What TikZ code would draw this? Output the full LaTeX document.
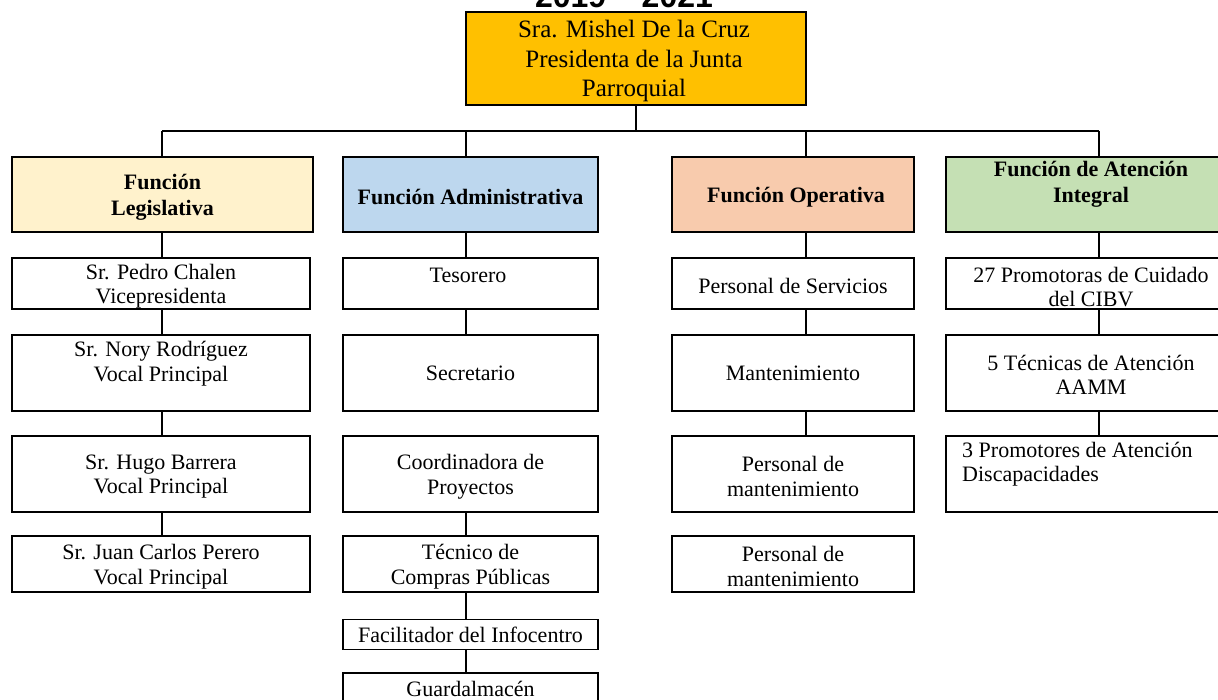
\documentclass[tikz,border=0pt]{standalone}
\usepackage{fontspec}
\setmainfont{Liberation Serif}
\newfontfamily\titlefont{Liberation Sans}
\definecolor{cgold}{HTML}{FFC000}
\definecolor{cyel}{HTML}{FFF2CC}
\definecolor{cblue}{HTML}{BDD7EE}
\definecolor{csalmon}{HTML}{F8CBAD}
\definecolor{cgreen}{HTML}{C5E0B4}
\begin{document}
\begin{tikzpicture}[x=1pt,y=-1pt,
  box/.style={draw, line width=1.8pt, inner sep=0pt, align=center, rectangle,
    font=\fontsize{22}{24.5}\selectfont},
  head/.style={box, font=\bfseries\fontsize{22}{26}\selectfont},
  txt/.style={inner sep=0pt, align=center, font=\fontsize{22}{24.5}\selectfont},
  conn/.style={line width=1.8pt}]
\useasboundingbox (0,0) rectangle (1218,700);
\clip (0,0) rectangle (1218,700);

% title (cut off at the top)
\node[font=\titlefont\bfseries\fontsize{32}{36}\selectfont, anchor=base, inner sep=0pt] (title) at (624,8) {2019 – 2021};

% president
\node[box, fill=cgold, minimum width=340, minimum height=93] (pres) at (636,58.5) {};
\node[txt, font=\fontsize{25}{29.5}\selectfont] (prest) at (634,61) {Sra. Mishel De la Cruz\\Presidenta de la Junta\\Parroquial};

% function boxes
\node[head, fill=cyel, minimum width=301, minimum height=75] (leg) at (162.5,194.5) {};
\node[txt, font=\bfseries\fontsize{22}{26}\selectfont] (legt) at (162.5,197) {Función\\Legislativa};
\node[head, fill=cblue, minimum width=255, minimum height=75] (adm) at (470.5,194.5) {};
\node[txt, font=\bfseries\fontsize{22}{26}\selectfont] (admt) at (470.5,197) {Función Administrativa};
\node[head, fill=csalmon, minimum width=242, minimum height=75] (ope) at (793,194.5) {};
\node[txt, font=\bfseries\fontsize{22}{26}\selectfont] (opet) at (796,197) {Función Operativa};
\node[head, fill=cgreen, minimum width=280, minimum height=75] (ate) at (1086,194.5) {};
\node[txt, font=\bfseries\fontsize{22}{26}\selectfont] (atet) at (1091,184) {Función de Atención\\Integral};

% drop points on the bar
\coordinate (top) at (636,131);
\coordinate (d1) at (162,131);
\coordinate (d2) at (466,131);
\coordinate (d3) at (806,131);
\coordinate (d4) at (1099,131);

\draw[conn] (pres.south) -- (top);
\draw[conn] (d1) -- (d4);
\draw[conn] (d1) -- (d1 |- leg.north);
\draw[conn] (d2) -- (d2 |- adm.north);
\draw[conn] (d3) -- (d3 |- ope.north);
\draw[conn] (d4) -- (d4 |- ate.north);

% Legislativa column
\node[box, minimum width=298, minimum height=51] (l1) at (161,283.5) {};
\node[txt] (l1t) at (161,286) {Sr. Pedro Chalen\\Vicepresidenta};
\node[box, minimum width=298, minimum height=76] (l2) at (161,373) {};
\node[txt] (l2t) at (161,363.5) {Sr. Nory Rodríguez\\Vocal Principal};
\node[box, minimum width=298, minimum height=76] (l3) at (161,474) {};
\node[txt] (l3t) at (161,476.5) {Sr. Hugo Barrera\\Vocal Principal};
\node[box, minimum width=298, minimum height=56] (l4) at (161,564) {};
\node[txt] (l4t) at (161,566.5) {Sr. Juan Carlos Perero\\Vocal Principal};
\draw[conn] (leg.south -| d1) -- (l1.north -| d1);
\draw[conn] (l1.south -| d1) -- (l2.north -| d1);
\draw[conn] (l2.south -| d1) -- (l3.north -| d1);
\draw[conn] (l3.south -| d1) -- (l4.north -| d1);

% Administrativa column
\node[box, minimum width=255, minimum height=51] (a1) at (470.5,283.5) {};
\node[txt] (a1t) at (468,275) {Tesorero};
\node[box, minimum width=255, minimum height=76] (a2) at (470.5,373) {Secretario};
\node[box, minimum width=255, minimum height=76] (a3) at (470.5,474) {};
\node[txt] (a3t) at (470.5,476.5) {Coordinadora de\\Proyectos};
\node[box, minimum width=255, minimum height=56] (a4) at (470.5,564) {};
\node[txt] (a4t) at (470.5,566.5) {Técnico de\\Compras Públicas};
\node[box, minimum width=255, minimum height=30] (a5) at (470.5,634.5) {Facilitador del Infocentro};
\node[box, minimum width=255, minimum height=32] (a6) at (470.5,689) {Guardalmacén};
\draw[conn] (adm.south -| d2) -- (a1.north -| d2);
\draw[conn] (a1.south -| d2) -- (a2.north -| d2);
\draw[conn] (a3.south -| d2) -- (a4.north -| d2);
\draw[conn] (a4.south -| d2) -- (a5.north -| d2);
\draw[conn] (a5.south -| d2) -- (a6.north -| d2);

% Operativa column
\node[box, minimum width=242, minimum height=51] (o1) at (793,283.5) {};
\node[txt] (o1t) at (793,286) {Personal de Servicios};
\node[box, minimum width=242, minimum height=76] (o2) at (793,373) {Mantenimiento};
\node[box, minimum width=242, minimum height=76] (o3) at (793,474) {};
\node[txt] (o3t) at (793,476.5) {Personal de\\mantenimiento};
\node[box, minimum width=242, minimum height=56] (o4) at (793,564) {};
\node[txt] (o4t) at (793,566.5) {Personal de\\mantenimiento};
\draw[conn] (ope.south -| d3) -- (o1.north -| d3);
\draw[conn] (o1.south -| d3) -- (o2.north -| d3);
\draw[conn] (o2.south -| d3) -- (o3.north -| d3);

% Atencion column
\node[box, minimum width=280, minimum height=51] (t1) at (1086,283.5) {};
\node[txt] (t1t) at (1091,287) {27 Promotoras de Cuidado\\del CIBV};
\node[box, minimum width=280, minimum height=76] (t2) at (1086,373) {};
\node[txt] (t2t) at (1091,375) {5 Técnicas de Atención\\AAMM};
\node[box, minimum width=280, minimum height=76] (t3) at (1086,474) {};
\node[txt, align=left, anchor=west] (t3t) at (962,464) {3 Promotores de Atención\\Discapacidades};
\draw[conn] (ate.south -| d4) -- (t1.north -| d4);
\draw[conn] (t1.south -| d4) -- (t2.north -| d4);
\draw[conn] (t2.south -| d4) -- (t3.north -| d4);
\end{tikzpicture}
\end{document}
